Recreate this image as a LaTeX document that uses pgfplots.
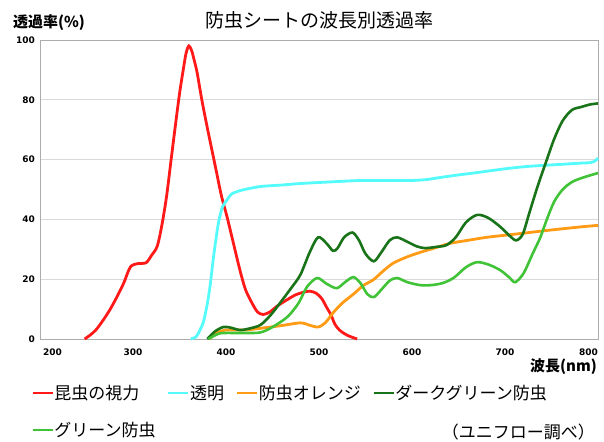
\documentclass[border=0pt]{standalone}
\usepackage{fontspec}
\setmainfont{Noto Sans CJK JP}
\newfontfamily\tickfont{DejaVu Sans}
\usepackage{pgfplots}
\pgfplotsset{compat=1.18}
\definecolor{cred}{RGB}{255,25,25}
\definecolor{ccyan}{RGB}{85,250,250}
\definecolor{corange}{RGB}{255,155,20}
\definecolor{cdgreen}{RGB}{25,115,25}
\definecolor{clgreen}{RGB}{65,195,55}
\begin{document}
\begin{tikzpicture}
\path[use as bounding box] (0,0) rectangle (604pt,441pt);
\begin{axis}[
  at={(40pt,102pt)}, anchor=south west,
  scale only axis, width=558pt, height=299pt,
  xmin=200, xmax=800, ymin=0, ymax=100,
  xtick={300,400,500,600,700},
  ytick={0,20,40,60,80,100},
  major tick length=0pt,
  ymajorgrids,
  grid style={gray!30, line width=0.8pt},
  axis line style={gray!65, line width=0.8pt},
  /pgf/number format/assume math mode=true,
  tick label style={font=\tickfont\bfseries\fontsize{9}{10}\selectfont},
  xticklabel style={anchor=center, yshift=-13pt},
  yticklabel style={anchor=east, inner sep=0pt, xshift=-5pt},
  legend columns=4,
  legend cell align=left,
  legend image code/.code={\draw[mark repeat=2,mark phase=2,#1] plot coordinates {(0pt,0pt) (10pt,0pt) (20pt,0pt)};},
  legend image post style={line width=1.6pt, sharp plot},
  legend style={at={(axis description cs:-0.015,-0.147)}, anchor=north west,
    draw=none, fill=none, inner sep=0pt, row sep=17pt,
    font=\fontsize{17}{20}\selectfont,
    nodes={inner xsep=1pt},
    /tikz/every even column/.append style={column sep=11pt}},
  clip=false,
]
\addplot[cred, line width=2.8pt, smooth] coordinates {
(248,0) (260,3) (275,9.7) (289,18) (297,24) (305,25.2) (314,25.5) (320,28) (326,31) (331,38) (336,47.5) (341,60) (345,70) (350,82) (354,90) (357,95.5) (360,98) (363,96.5) (366,93) (369,89) (374,80) (379,72) (385,63) (390,55.5) (395,48) (401,41) (408,32) (415,23) (421,16.5) (428,12) (434,9) (440,8.2) (447,9) (455,11) (465,13) (475,14.8) (483,15.6) (490,16) (497,15.3) (503,13.5) (508,10.7) (513,8) (517,5) (522,3) (530,1.3) (541,0)
};
\addlegendentry{昆虫の視力}
\addplot[ccyan, line width=2.8pt, smooth] coordinates {
(362,0) (368,0.8) (372,3) (376,6) (380,12) (383,18) (386,26) (389,33) (392,39) (396,44) (401,46.5) (406,48.5) (412,49.3) (420,50) (437,51) (460,51.5) (480,52) (510,52.5) (544,53) (570,53) (598,53) (615,53.3) (630,54) (648,54.8) (666,55.5) (685,56.3) (702,57) (720,57.6) (738,58) (760,58.4) (780,58.8) (792,59) (797,59.6) (800,60.5)
};
\addlegendentry{透明}
\addplot[corange, line width=2.8pt, smooth] coordinates {
(382,0) (390,2) (400,3) (420,3) (440,3.7) (460,4.5) (480,5.4) (490,4.6) (499,4) (507,5.5) (515,8.7) (525,12) (537,15) (548,18) (558,19.7) (570,23) (580,25.4) (595,27.5) (609,29) (625,30.5) (641,32) (660,33) (680,34) (700,34.7) (723,35.5) (745,36.3) (766,37) (785,37.6) (800,38)
};
\addlegendentry{防虫オレンジ}
\addplot[cdgreen, line width=2.6pt, smooth] coordinates {
(380,0) (388,2.5) (397,4) (405,3.8) (415,3) (425,3.5) (437,4.7) (448,8) (458,12) (470,17) (480,21.5) (490,29) (499,34) (508,32) (515,29.5) (520,30.4) (527,34) (536,35.6) (543,33) (550,28.5) (559,26) (567,29) (576,33) (584,34) (595,32.5) (605,31) (614,30.4) (626,30.8) (637,31.4) (647,34) (658,39) (670,41.5) (682,40.5) (695,37.5) (705,34.5) (712,33) (719,35) (726,42) (735,51) (745,60) (753,67) (762,73) (772,76.6) (782,77.6) (791,78.4) (800,78.8)
};
\addlegendentry{ダークグリーン防虫}
\addplot[clgreen, line width=2.6pt, smooth] coordinates {
(381,0) (390,1.5) (397,2) (420,2) (437,2.2) (450,4) (466,7.4) (478,12) (487,17.4) (498,20.4) (508,18.5) (519,17) (528,19) (537,20.7) (545,18.5) (552,15) (559,14) (567,16.5) (576,19.5) (584,20.4) (595,19) (609,18) (620,18) (633,18.7) (645,20.5) (658,24) (670,25.7) (683,24.8) (695,23) (705,20.5) (711,19) (720,22) (730,28.7) (738,34) (745,40) (753,46) (762,50) (772,52.5) (784,54) (800,55.5)
};
\addlegendentry{グリーン防虫}
\node[anchor=west, inner sep=0pt, xshift=3pt, yshift=-13pt, font=\tickfont\bfseries\fontsize{9}{10}\selectfont] at (axis cs:200,0) {200};
\node[anchor=east, inner sep=0pt, yshift=-13pt, font=\tickfont\bfseries\fontsize{9}{10}\selectfont] at (axis cs:800,0) {800};
\end{axis}
\node[font=\fontsize{19}{22}\selectfont, inner sep=0pt] at (319pt,421pt) {防虫シートの波長別透過率};
\node[font=\bfseries\fontsize{15}{18}\selectfont, anchor=west, inner sep=0pt] at (13pt,418pt) {透過率(\%)};
\node[font=\bfseries\fontsize{15}{18}\selectfont, anchor=east, inner sep=0pt] at (597pt,74pt) {波長(nm)};
\node[font=\fontsize{17}{20}\selectfont, anchor=east, inner sep=0pt] at (595pt,9pt) {（ユニフロー調べ）};
\end{tikzpicture}
\end{document}
